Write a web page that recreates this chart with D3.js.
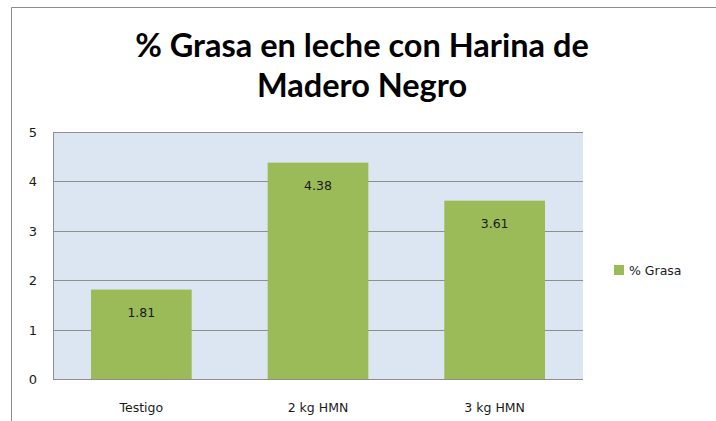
<!DOCTYPE html>
<html>
<head>
<meta charset="utf-8">
<script src="https://cdn.jsdelivr.net/npm/d3@7"></script>
<style>
  body { margin: 0; background: #fff; }
  svg { display: block; }
</style>
</head>
<body>
<div id="chart"></div>
<script>
// data
let categories = ['Testigo', '2 kg HMN', '3 kg HMN'];
let grasa = [1.81, 4.38, 3.61];
let yTicks = [0, 1, 2, 3, 4, 5];
let seriesName = '% Grasa';
let titleLines = ['% Grasa en leche con Harina de', 'Madero Negro'];

let W = 716, H = 421;
let plot = {left: 53, top: 132, right: 583, bottom: 379};

let svg = d3.select('#chart')
    .append('svg')
    .attr('width', W)
    .attr('height', H);

// chart frame (only top/left edges visible in the crop)
svg.append('path')
    .attr('d', `M11.5,${H} L11.5,7.5 L${W},7.5`)
    .attr('fill', 'none')
    .attr('stroke', '#8c8c8c')
    .attr('stroke-width', 1);

let x = d3.scaleBand()
    .domain(categories)
    .range([plot.left, plot.right])
    .paddingInner(0.43)
    .paddingOuter(0.215);

let y = d3.scaleLinear()
    .domain([0, 5])
    .range([plot.bottom, plot.top]);

// plot background
svg.append('rect')
    .attr('x', plot.left)
    .attr('y', plot.top)
    .attr('width', plot.right - plot.left)
    .attr('height', plot.bottom - plot.top)
    .attr('fill', '#dce6f2');

// gridlines
svg.append('g')
    .selectAll('line')
    .data(yTicks.filter(d => d > 0))
    .join('line')
    .attr('x1', plot.left)
    .attr('x2', plot.right)
    .attr('y1', d => Math.round(y(d)) + 0.5)
    .attr('y2', d => Math.round(y(d)) + 0.5)
    .attr('stroke', '#8e8e8e')
    .attr('stroke-width', 1.2);

// bars
svg.append('g')
    .selectAll('rect')
    .data(grasa)
    .join('rect')
    .attr('x', (d, i) => x(categories[i]))
    .attr('y', d => y(d))
    .attr('width', x.bandwidth())
    .attr('height', d => y(0) - y(d))
    .attr('fill', '#9bbb59');

// value labels
svg.append('g')
    .selectAll('text')
    .data(grasa)
    .join('text')
    .attr('x', (d, i) => x(categories[i]) + x.bandwidth() / 2)
    .attr('y', d => y(d) + 27)
    .attr('text-anchor', 'middle')
    .attr('font-family', 'DejaVu Sans, Verdana, sans-serif')
    .attr('font-size', 12.5)
    .attr('fill', '#1a1a1a')
    .text(d => d.toFixed(2));

// axes lines
svg.append('line')
    .attr('x1', plot.left + 0.5).attr('x2', plot.left + 0.5)
    .attr('y1', plot.top).attr('y2', plot.bottom)
    .attr('stroke', '#8e8e8e');
svg.append('line')
    .attr('x1', plot.left).attr('x2', plot.right)
    .attr('y1', plot.bottom + 0.5).attr('y2', plot.bottom + 0.5)
    .attr('stroke', '#8e8e8e');

// y tick labels
svg.append('g')
    .selectAll('text')
    .data(yTicks)
    .join('text')
    .attr('x', 33)
    .attr('y', d => y(d) + 5)
    .attr('text-anchor', 'middle')
    .attr('font-family', 'DejaVu Sans, Verdana, sans-serif')
    .attr('font-size', 13)
    .attr('fill', '#1a1a1a')
    .text(d => d);

// category labels
svg.append('g')
    .selectAll('text')
    .data(categories)
    .join('text')
    .attr('x', d => x(d) + x.bandwidth() / 2)
    .attr('y', 412)
    .attr('text-anchor', 'middle')
    .attr('font-family', 'DejaVu Sans, Verdana, sans-serif')
    .attr('font-size', 12.5)
    .attr('fill', '#1a1a1a')
    .text(d => d);

// title
svg.append('g')
    .selectAll('text')
    .data(titleLines)
    .join('text')
    .attr('x', 362)
    .attr('y', (d, i) => 57 + i * 40)
    .attr('text-anchor', 'middle')
    .attr('font-family', 'Lato, Open Sans, sans-serif')
    .attr('font-weight', 'bold')
    .attr('font-size', 32.5)
    .attr('fill', '#000')
    .text(d => d);

// legend
let legend = svg.append('g').attr('transform', 'translate(614,265)');
legend.append('rect')
    .attr('width', 10)
    .attr('height', 10)
    .attr('fill', '#9bbb59');
legend.append('text')
    .attr('x', 15)
    .attr('y', 10)
    .attr('font-family', 'DejaVu Sans, Verdana, sans-serif')
    .attr('font-size', 12.5)
    .attr('fill', '#1a1a1a')
    .text(seriesName);
</script>
</body>
</html>
